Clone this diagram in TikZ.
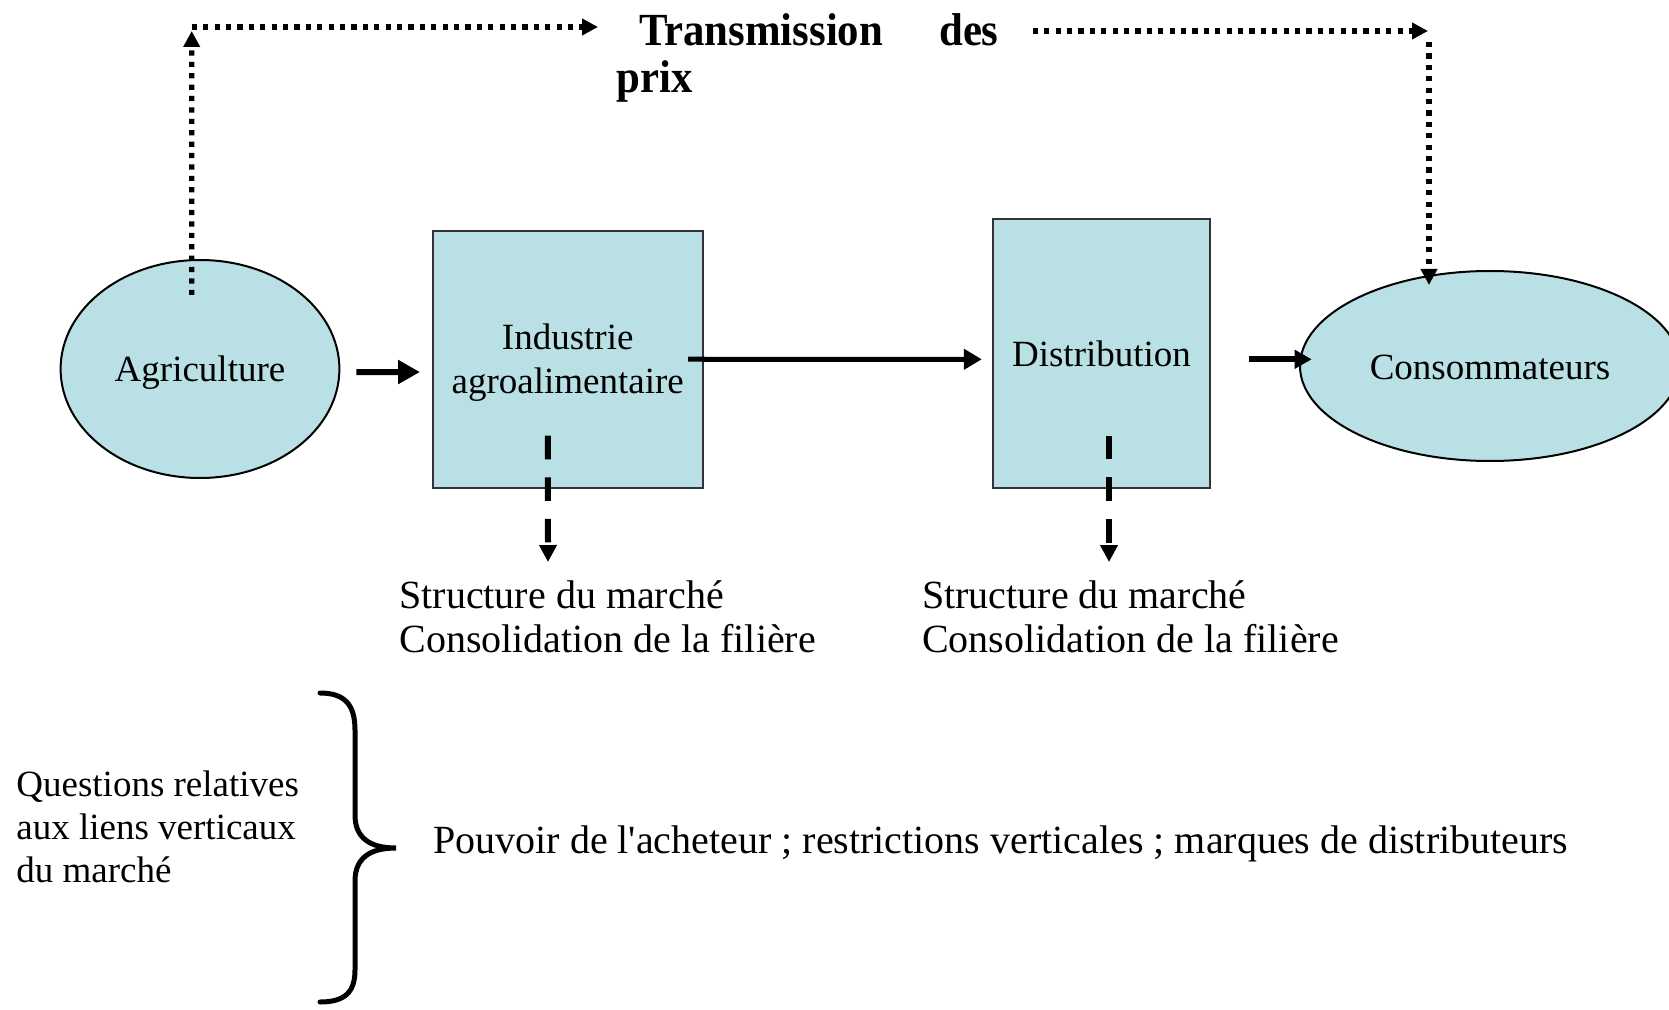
\documentclass[tikz,border=0pt]{standalone}
\usepackage{fontspec}
\usepackage{graphicx}
\setmainfont{Liberation Serif}
\usetikzlibrary{shapes.geometric,arrows.meta}
\definecolor{fillblue}{RGB}{185,224,228}
\begin{document}
\begin{tikzpicture}[x=0.5pt,y=-0.5pt,
  blob/.style={ellipse,draw=black,line width=1pt,fill=fillblue,inner sep=0pt,outer sep=0pt,font=\fontsize{18.5}{22}\selectfont},
  boxnode/.style={rectangle,draw=black!80,line width=1pt,fill=fillblue,inner sep=0pt,outer sep=0pt,align=center,font=\fontsize{18.5}{22}\selectfont},
  lbl/.style={anchor=base west,inner sep=0pt,font=\fontsize{20}{24}\selectfont},
  qlbl/.style={anchor=base west,inner sep=0pt,font=\fontsize{18.5}{22}\selectfont},
  ttl/.style={anchor=base west,inner sep=0pt,font=\fontsize{23}{27}\selectfont\bfseries},
  arrA/.style={line width=3pt,-{Triangle[length=11pt,width=11.5pt]}},
  arrB/.style={line width=2.5pt,-{Triangle[length=9pt,width=10pt]}},
  arrC/.style={line width=3pt,-{Triangle[length=8.5pt,width=9pt]}},
  dotarr/.style={line width=2.6pt,dash pattern=on 2.6pt off 3.1pt,-{Triangle[length=8pt,width=8pt]}},
  dasharr/.style={line width=3pt,dash pattern=on 11.8pt off 9pt,-{Triangle[length=8.5pt,width=8.5pt]}},
  bracestyle/.style={line width=2.5pt,line cap=round}
]
\useasboundingbox (0,0) rectangle (1669,1010);

% nodes
\node[blob,minimum width=139.4pt,minimum height=109pt] (agri) at (200,369) {\raisebox{0pt}[\dimexpr\height+4pt\relax]{Agriculture}};
\node[boxnode,minimum width=134.75pt,minimum height=128.25pt] (ind) at (567.75,359.25) {\raisebox{0pt}[\dimexpr\height+3.2pt\relax]{Industrie}\\agroalimentaire};
\node[boxnode,minimum width=108.5pt,minimum height=134.1pt] (dist) at (1101.5,353.4) {Distribution};
\node[blob,minimum width=190pt,minimum height=95pt] (cons) at (1490,366) {\raisebox{0pt}[\dimexpr\height+1pt\relax]{Consommateurs}};

% title
\node[ttl] (t1) at (638.6,45.8) {\scalebox{0.93}[1]{Transmission}};
\node[ttl] (t2) at (938.8,45.8) {\scalebox{0.93}[1]{des}};
\node[ttl] (t3) at (616.3,92.6) {\scalebox{0.93}[1]{prix}};

% lower labels
\node[lbl] (s1) at (399,608) {Structure du marché};
\node[lbl] (c1) at (399,652.5) {Consolidation de la filière};
\node[lbl] (s2) at (921.8,608) {Structure du marché};
\node[lbl] (c2) at (921.8,652.5) {Consolidation de la filière};

\node[qlbl] (q1) at (16,796) {Questions relatives};
\node[qlbl] (q2) at (16,839) {aux liens verticaux};
\node[qlbl] (q3) at (16,882) {du marché};
\node[lbl] (pv) at (433,853) {Pouvoir de l\textquotesingle acheteur ; restrictions verticales ; marques de distributeurs};

% coordinates for free ends
\coordinate (tl) at (191.7,27);
\coordinate (tr) at (598,27);
\coordinate (rs) at (1032.7,31);
\coordinate (rc) at (1428,31);
\coordinate (rv) at (1429,42);
\coordinate (d1) at (548,562);
\coordinate (d2) at (1109,562);

% solid arrows
\draw[arrA,shorten <=8.5pt,shorten >=6.5pt] ([yshift=-1.5pt]agri.east) -- ([yshift=-6.4pt]ind.west);
\draw[arrB,shorten <=-7.2pt,shorten >=5.6pt] (ind.east) -- ([yshift=-2.95pt]dist.west);
\draw[arrC,shorten <=19.5pt,shorten >=-5.85pt] ([yshift=-2.95pt]dist.east) -- ([yshift=3.35pt]cons.west);

% dotted price transmission
\draw[dotarr,shorten >=2pt] ([xshift=-4.15pt,yshift=-17.5pt]agri.north) -- (tl);
\draw[dotarr] (tl) -- (tr);
\draw[dotarr] (rs) -- (rc);
\draw[dotarr] (rv) -- ([xshift=-30.5pt,yshift=-7pt]cons.north);

% dashed down arrows
\draw[dasharr] ([xshift=-9.9pt,yshift=-38.2pt]ind.center) -- (d1);
\draw[dasharr] ([xshift=3.75pt,yshift=-41.15pt]dist.center) -- (d2);

% brace
\draw[bracestyle] (320,693) .. controls (345,693) and (355,705) .. (355,730)
  -- (355,815) .. controls (355,838) and (370,848) .. (396,848)
  .. controls (370,848) and (355,858) .. (355,881)
  -- (355,970) .. controls (355,992) and (345,1002) .. (320,1002);
\end{tikzpicture}
\end{document}
